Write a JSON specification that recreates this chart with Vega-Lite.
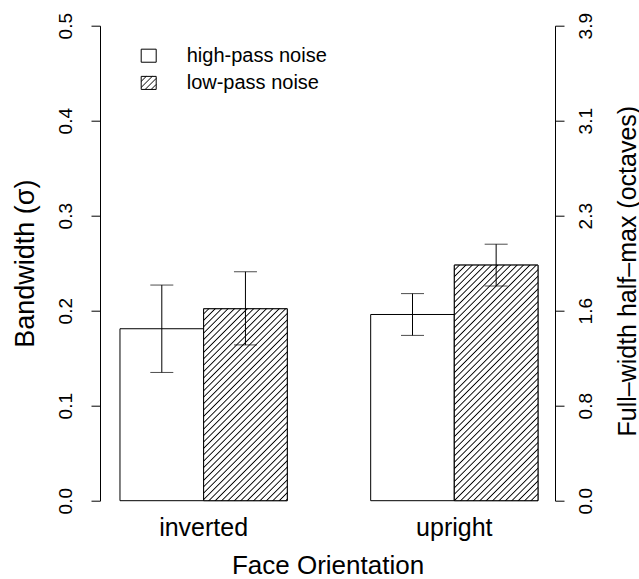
{
"$schema": "https://vega.github.io/schema/vega-lite/v6.json",
"width": 455, "height": 475,
"autosize": {"type": "none"},
"padding": {"left": 100, "top": 25.7, "right": 84, "bottom": 78.3},
"background": "white",
"config": {"view": {"stroke": null}, "font": "Liberation Sans",
 "axis": {"labelFont": "Liberation Sans", "titleFont": "Liberation Sans", "labelColor": "black", "titleColor": "black", "titleFontWeight": "normal", "domainColor": "black", "tickColor": "black", "grid": false, "domainWidth": 1, "tickWidth": 1}},
"data": {"values": [
 {"orient": "inverted", "noise": "high-pass noise", "value": 0.181, "lo": 0.135, "hi": 0.227},
 {"orient": "inverted", "noise": "low-pass noise", "value": 0.202, "lo": 0.164, "hi": 0.241},
 {"orient": "upright", "noise": "high-pass noise", "value": 0.196, "lo": 0.174, "hi": 0.218},
 {"orient": "upright", "noise": "low-pass noise", "value": 0.248, "lo": 0.226, "hi": 0.270}
]},
"layer": [
 {"layer": [
  {"mark": {"type": "bar", "stroke": "black", "strokeWidth": 1},
   "encoding": {
    "x": {"field": "orient", "type": "nominal", "scale": {"paddingInner": 0.3327, "paddingOuter": 0.0738, "align": 0.54},
      "axis": {"title": "Face Orientation", "domain": false, "ticks": false, "tickSize": 0, "labelAngle": 0, "labelFontSize": 25, "labelBaseline": "alphabetic", "labelPadding": 35, "titleFontSize": 26, "titleBaseline": "alphabetic", "titleY": 72.5}},
    "xOffset": {"field": "noise", "type": "nominal", "scale": {"paddingInner": 0, "paddingOuter": 0}},
    "y": {"field": "value", "type": "quantitative", "scale": {"domain": [0, 0.5], "nice": false},
      "axis": {"title": "Bandwidth (σ)", "values": [0, 0.1, 0.2, 0.3, 0.4, 0.5], "format": ".1f", "labelAngle": -90, "labelAlign": "center", "labelBaseline": "alphabetic", "labelPadding": 19.3, "labelFontSize": 19, "labelFlush": false, "labelOverlap": false, "tickSize": 9, "titleFontSize": 27, "titleAngle": -90, "titleAlign": "center", "titleBaseline": "alphabetic", "titleX": -66.7, "titleY": 237.5}},
    "fill": {"field": "noise", "type": "nominal", "scale": {"range": ["white", "white"]},
      "legend": {"title": null, "orient": "none", "legendX": 38.7, "legendY": 20, "padding": 0, "offset": 0,
        "symbolType": {"expr": "datum.value === 'low-pass noise' ? 'M-1,-0.87H1V0.87H-1Z M-1,-0.2L-0.33,-0.87 M-1,0.6L0.47,-0.87 M-0.47,0.87L1,-0.6 M0.33,0.87L1,0.2' : 'M-1,-0.87H1V0.87H-1Z'"},
        "symbolSize": 225, "symbolStrokeColor": "black", "symbolStrokeWidth": 1, "symbolOffset": 0,
        "labelFont": "Liberation Sans", "labelFontSize": 20, "labelColor": "black", "labelOffset": 28, "rowPadding": 7.2}}
   }},
  {"transform": [{"filter": "datum.noise === 'low-pass noise'"}],
   "mark": {"type": "bar", "stroke": "black", "strokeWidth": 1},
   "encoding": {
    "x": {"field": "orient", "type": "nominal",
      "axis": {"title": "Face Orientation", "domain": false, "ticks": false, "tickSize": 0, "labelAngle": 0, "labelFontSize": 25, "labelBaseline": "alphabetic", "labelPadding": 35, "titleFontSize": 26, "titleBaseline": "alphabetic", "titleY": 72.5}},
    "xOffset": {"field": "noise", "type": "nominal"},
    "y": {"field": "value", "type": "quantitative",
      "axis": {"title": "Bandwidth (σ)", "values": [0, 0.1, 0.2, 0.3, 0.4, 0.5], "format": ".1f", "labelAngle": -90, "labelAlign": "center", "labelBaseline": "alphabetic", "labelPadding": 19.3, "labelFontSize": 19, "labelFlush": false, "labelOverlap": false, "tickSize": 9, "titleFontSize": 27, "titleAngle": -90, "titleAlign": "center", "titleBaseline": "alphabetic", "titleX": -66.7, "titleY": 237.5}},
    "fill": {"condition": {"test": "datum.orient === 'inverted'", "value": {"gradient": "linear", "x1": 0, "y1": 0, "x2": 0.6108, "y2": 1.4013, "stops": [{"offset":0.012,"color":"#fff"},{"offset":0.016,"color":"#000"},{"offset":0.02,"color":"#fff"},{"offset":0.032,"color":"#fff"},{"offset":0.036,"color":"#000"},{"offset":0.04,"color":"#fff"},{"offset":0.052,"color":"#fff"},{"offset":0.056,"color":"#000"},{"offset":0.06,"color":"#fff"},{"offset":0.072,"color":"#fff"},{"offset":0.076,"color":"#000"},{"offset":0.08,"color":"#fff"},{"offset":0.092,"color":"#fff"},{"offset":0.096,"color":"#000"},{"offset":0.1,"color":"#fff"},{"offset":0.112,"color":"#fff"},{"offset":0.116,"color":"#000"},{"offset":0.12,"color":"#fff"},{"offset":0.132,"color":"#fff"},{"offset":0.136,"color":"#000"},{"offset":0.14,"color":"#fff"},{"offset":0.152,"color":"#fff"},{"offset":0.156,"color":"#000"},{"offset":0.16,"color":"#fff"},{"offset":0.172,"color":"#fff"},{"offset":0.176,"color":"#000"},{"offset":0.18,"color":"#fff"},{"offset":0.192,"color":"#fff"},{"offset":0.196,"color":"#000"},{"offset":0.2,"color":"#fff"},{"offset":0.212,"color":"#fff"},{"offset":0.216,"color":"#000"},{"offset":0.22,"color":"#fff"},{"offset":0.232,"color":"#fff"},{"offset":0.236,"color":"#000"},{"offset":0.24,"color":"#fff"},{"offset":0.252,"color":"#fff"},{"offset":0.256,"color":"#000"},{"offset":0.26,"color":"#fff"},{"offset":0.272,"color":"#fff"},{"offset":0.276,"color":"#000"},{"offset":0.28,"color":"#fff"},{"offset":0.292,"color":"#fff"},{"offset":0.296,"color":"#000"},{"offset":0.3,"color":"#fff"},{"offset":0.312,"color":"#fff"},{"offset":0.316,"color":"#000"},{"offset":0.32,"color":"#fff"},{"offset":0.332,"color":"#fff"},{"offset":0.336,"color":"#000"},{"offset":0.34,"color":"#fff"},{"offset":0.352,"color":"#fff"},{"offset":0.356,"color":"#000"},{"offset":0.36,"color":"#fff"},{"offset":0.372,"color":"#fff"},{"offset":0.376,"color":"#000"},{"offset":0.38,"color":"#fff"},{"offset":0.392,"color":"#fff"},{"offset":0.396,"color":"#000"},{"offset":0.4,"color":"#fff"},{"offset":0.412,"color":"#fff"},{"offset":0.416,"color":"#000"},{"offset":0.42,"color":"#fff"},{"offset":0.432,"color":"#fff"},{"offset":0.436,"color":"#000"},{"offset":0.44,"color":"#fff"},{"offset":0.452,"color":"#fff"},{"offset":0.456,"color":"#000"},{"offset":0.46,"color":"#fff"},{"offset":0.472,"color":"#fff"},{"offset":0.476,"color":"#000"},{"offset":0.48,"color":"#fff"},{"offset":0.492,"color":"#fff"},{"offset":0.496,"color":"#000"},{"offset":0.5,"color":"#fff"},{"offset":0.512,"color":"#fff"},{"offset":0.516,"color":"#000"},{"offset":0.52,"color":"#fff"},{"offset":0.532,"color":"#fff"},{"offset":0.536,"color":"#000"},{"offset":0.54,"color":"#fff"},{"offset":0.552,"color":"#fff"},{"offset":0.556,"color":"#000"},{"offset":0.56,"color":"#fff"},{"offset":0.572,"color":"#fff"},{"offset":0.576,"color":"#000"},{"offset":0.58,"color":"#fff"},{"offset":0.592,"color":"#fff"},{"offset":0.596,"color":"#000"},{"offset":0.6,"color":"#fff"},{"offset":0.612,"color":"#fff"},{"offset":0.616,"color":"#000"},{"offset":0.62,"color":"#fff"},{"offset":0.632,"color":"#fff"},{"offset":0.636,"color":"#000"},{"offset":0.64,"color":"#fff"},{"offset":0.652,"color":"#fff"},{"offset":0.656,"color":"#000"},{"offset":0.66,"color":"#fff"},{"offset":0.672,"color":"#fff"},{"offset":0.676,"color":"#000"},{"offset":0.68,"color":"#fff"},{"offset":0.692,"color":"#fff"},{"offset":0.696,"color":"#000"},{"offset":0.7,"color":"#fff"},{"offset":0.712,"color":"#fff"},{"offset":0.716,"color":"#000"},{"offset":0.72,"color":"#fff"},{"offset":0.732,"color":"#fff"},{"offset":0.736,"color":"#000"},{"offset":0.74,"color":"#fff"},{"offset":0.752,"color":"#fff"},{"offset":0.756,"color":"#000"},{"offset":0.76,"color":"#fff"},{"offset":0.772,"color":"#fff"},{"offset":0.776,"color":"#000"},{"offset":0.78,"color":"#fff"},{"offset":0.792,"color":"#fff"},{"offset":0.796,"color":"#000"},{"offset":0.8,"color":"#fff"},{"offset":0.812,"color":"#fff"},{"offset":0.816,"color":"#000"},{"offset":0.82,"color":"#fff"},{"offset":0.832,"color":"#fff"},{"offset":0.836,"color":"#000"},{"offset":0.84,"color":"#fff"},{"offset":0.852,"color":"#fff"},{"offset":0.856,"color":"#000"},{"offset":0.86,"color":"#fff"},{"offset":0.872,"color":"#fff"},{"offset":0.876,"color":"#000"},{"offset":0.88,"color":"#fff"},{"offset":0.892,"color":"#fff"},{"offset":0.896,"color":"#000"},{"offset":0.9,"color":"#fff"},{"offset":0.912,"color":"#fff"},{"offset":0.916,"color":"#000"},{"offset":0.92,"color":"#fff"},{"offset":0.932,"color":"#fff"},{"offset":0.936,"color":"#000"},{"offset":0.94,"color":"#fff"},{"offset":0.952,"color":"#fff"},{"offset":0.956,"color":"#000"},{"offset":0.96,"color":"#fff"},{"offset":0.972,"color":"#fff"},{"offset":0.976,"color":"#000"},{"offset":0.98,"color":"#fff"},{"offset":0.992,"color":"#fff"},{"offset":0.996,"color":"#000"},{"offset":1,"color":"#fff"}]}},
      "value": {"gradient": "linear", "x1": 0, "y1": 0, "x2": 0.4283, "y2": 1.2062, "stops": [{"offset":0.012,"color":"#fff"},{"offset":0.016,"color":"#000"},{"offset":0.02,"color":"#fff"},{"offset":0.032,"color":"#fff"},{"offset":0.036,"color":"#000"},{"offset":0.04,"color":"#fff"},{"offset":0.052,"color":"#fff"},{"offset":0.056,"color":"#000"},{"offset":0.06,"color":"#fff"},{"offset":0.072,"color":"#fff"},{"offset":0.076,"color":"#000"},{"offset":0.08,"color":"#fff"},{"offset":0.092,"color":"#fff"},{"offset":0.096,"color":"#000"},{"offset":0.1,"color":"#fff"},{"offset":0.112,"color":"#fff"},{"offset":0.116,"color":"#000"},{"offset":0.12,"color":"#fff"},{"offset":0.132,"color":"#fff"},{"offset":0.136,"color":"#000"},{"offset":0.14,"color":"#fff"},{"offset":0.152,"color":"#fff"},{"offset":0.156,"color":"#000"},{"offset":0.16,"color":"#fff"},{"offset":0.172,"color":"#fff"},{"offset":0.176,"color":"#000"},{"offset":0.18,"color":"#fff"},{"offset":0.192,"color":"#fff"},{"offset":0.196,"color":"#000"},{"offset":0.2,"color":"#fff"},{"offset":0.212,"color":"#fff"},{"offset":0.216,"color":"#000"},{"offset":0.22,"color":"#fff"},{"offset":0.232,"color":"#fff"},{"offset":0.236,"color":"#000"},{"offset":0.24,"color":"#fff"},{"offset":0.252,"color":"#fff"},{"offset":0.256,"color":"#000"},{"offset":0.26,"color":"#fff"},{"offset":0.272,"color":"#fff"},{"offset":0.276,"color":"#000"},{"offset":0.28,"color":"#fff"},{"offset":0.292,"color":"#fff"},{"offset":0.296,"color":"#000"},{"offset":0.3,"color":"#fff"},{"offset":0.312,"color":"#fff"},{"offset":0.316,"color":"#000"},{"offset":0.32,"color":"#fff"},{"offset":0.332,"color":"#fff"},{"offset":0.336,"color":"#000"},{"offset":0.34,"color":"#fff"},{"offset":0.352,"color":"#fff"},{"offset":0.356,"color":"#000"},{"offset":0.36,"color":"#fff"},{"offset":0.372,"color":"#fff"},{"offset":0.376,"color":"#000"},{"offset":0.38,"color":"#fff"},{"offset":0.392,"color":"#fff"},{"offset":0.396,"color":"#000"},{"offset":0.4,"color":"#fff"},{"offset":0.412,"color":"#fff"},{"offset":0.416,"color":"#000"},{"offset":0.42,"color":"#fff"},{"offset":0.432,"color":"#fff"},{"offset":0.436,"color":"#000"},{"offset":0.44,"color":"#fff"},{"offset":0.452,"color":"#fff"},{"offset":0.456,"color":"#000"},{"offset":0.46,"color":"#fff"},{"offset":0.472,"color":"#fff"},{"offset":0.476,"color":"#000"},{"offset":0.48,"color":"#fff"},{"offset":0.492,"color":"#fff"},{"offset":0.496,"color":"#000"},{"offset":0.5,"color":"#fff"},{"offset":0.512,"color":"#fff"},{"offset":0.516,"color":"#000"},{"offset":0.52,"color":"#fff"},{"offset":0.532,"color":"#fff"},{"offset":0.536,"color":"#000"},{"offset":0.54,"color":"#fff"},{"offset":0.552,"color":"#fff"},{"offset":0.556,"color":"#000"},{"offset":0.56,"color":"#fff"},{"offset":0.572,"color":"#fff"},{"offset":0.576,"color":"#000"},{"offset":0.58,"color":"#fff"},{"offset":0.592,"color":"#fff"},{"offset":0.596,"color":"#000"},{"offset":0.6,"color":"#fff"},{"offset":0.612,"color":"#fff"},{"offset":0.616,"color":"#000"},{"offset":0.62,"color":"#fff"},{"offset":0.632,"color":"#fff"},{"offset":0.636,"color":"#000"},{"offset":0.64,"color":"#fff"},{"offset":0.652,"color":"#fff"},{"offset":0.656,"color":"#000"},{"offset":0.66,"color":"#fff"},{"offset":0.672,"color":"#fff"},{"offset":0.676,"color":"#000"},{"offset":0.68,"color":"#fff"},{"offset":0.692,"color":"#fff"},{"offset":0.696,"color":"#000"},{"offset":0.7,"color":"#fff"},{"offset":0.712,"color":"#fff"},{"offset":0.716,"color":"#000"},{"offset":0.72,"color":"#fff"},{"offset":0.732,"color":"#fff"},{"offset":0.736,"color":"#000"},{"offset":0.74,"color":"#fff"},{"offset":0.752,"color":"#fff"},{"offset":0.756,"color":"#000"},{"offset":0.76,"color":"#fff"},{"offset":0.772,"color":"#fff"},{"offset":0.776,"color":"#000"},{"offset":0.78,"color":"#fff"},{"offset":0.792,"color":"#fff"},{"offset":0.796,"color":"#000"},{"offset":0.8,"color":"#fff"},{"offset":0.812,"color":"#fff"},{"offset":0.816,"color":"#000"},{"offset":0.82,"color":"#fff"},{"offset":0.832,"color":"#fff"},{"offset":0.836,"color":"#000"},{"offset":0.84,"color":"#fff"},{"offset":0.852,"color":"#fff"},{"offset":0.856,"color":"#000"},{"offset":0.86,"color":"#fff"},{"offset":0.872,"color":"#fff"},{"offset":0.876,"color":"#000"},{"offset":0.88,"color":"#fff"},{"offset":0.892,"color":"#fff"},{"offset":0.896,"color":"#000"},{"offset":0.9,"color":"#fff"},{"offset":0.912,"color":"#fff"},{"offset":0.916,"color":"#000"},{"offset":0.92,"color":"#fff"},{"offset":0.932,"color":"#fff"},{"offset":0.936,"color":"#000"},{"offset":0.94,"color":"#fff"},{"offset":0.952,"color":"#fff"},{"offset":0.956,"color":"#000"},{"offset":0.96,"color":"#fff"},{"offset":0.972,"color":"#fff"},{"offset":0.976,"color":"#000"},{"offset":0.98,"color":"#fff"},{"offset":0.992,"color":"#fff"},{"offset":0.996,"color":"#000"},{"offset":1,"color":"#fff"}]}}
   }},
  {"mark": {"type": "rule", "color": "black", "strokeWidth": 1},
   "encoding": {
    "x": {"field": "orient", "type": "nominal",
      "axis": {"title": "Face Orientation", "domain": false, "ticks": false, "tickSize": 0, "labelAngle": 0, "labelFontSize": 25, "labelBaseline": "alphabetic", "labelPadding": 35, "titleFontSize": 26, "titleBaseline": "alphabetic", "titleY": 72.5}},
    "xOffset": {"field": "noise", "type": "nominal"},
    "y": {"field": "lo", "type": "quantitative",
      "axis": {"title": "Bandwidth (σ)", "values": [0, 0.1, 0.2, 0.3, 0.4, 0.5], "format": ".1f", "labelAngle": -90, "labelAlign": "center", "labelBaseline": "alphabetic", "labelPadding": 19.3, "labelFontSize": 19, "labelFlush": false, "labelOverlap": false, "tickSize": 9, "titleFontSize": 27, "titleAngle": -90, "titleAlign": "center", "titleBaseline": "alphabetic", "titleX": -66.7, "titleY": 237.5}},
    "y2": {"field": "hi"}
   }},
  {"mark": {"type": "tick", "color": "black", "thickness": 1, "size": 23},
   "encoding": {
    "x": {"field": "orient", "type": "nominal",
      "axis": {"title": "Face Orientation", "domain": false, "ticks": false, "tickSize": 0, "labelAngle": 0, "labelFontSize": 25, "labelBaseline": "alphabetic", "labelPadding": 35, "titleFontSize": 26, "titleBaseline": "alphabetic", "titleY": 72.5}},
    "xOffset": {"field": "noise", "type": "nominal"},
    "y": {"field": "lo", "type": "quantitative",
      "axis": {"title": "Bandwidth (σ)", "values": [0, 0.1, 0.2, 0.3, 0.4, 0.5], "format": ".1f", "labelAngle": -90, "labelAlign": "center", "labelBaseline": "alphabetic", "labelPadding": 19.3, "labelFontSize": 19, "labelFlush": false, "labelOverlap": false, "tickSize": 9, "titleFontSize": 27, "titleAngle": -90, "titleAlign": "center", "titleBaseline": "alphabetic", "titleX": -66.7, "titleY": 237.5}}
   }}
 ]},
 {"mark": {"type": "tick", "color": "black", "thickness": 1, "size": 23},
  "encoding": {
   "x": {"field": "orient", "type": "nominal",
      "axis": {"title": "Face Orientation", "domain": false, "ticks": false, "tickSize": 0, "labelAngle": 0, "labelFontSize": 25, "labelBaseline": "alphabetic", "labelPadding": 35, "titleFontSize": 26, "titleBaseline": "alphabetic", "titleY": 72.5}},
   "xOffset": {"field": "noise", "type": "nominal"},
   "y": {"field": "hi", "type": "quantitative", "scale": {"domain": [0, 0.5], "nice": false},
     "axis": {"orient": "right", "title": "Full–width half–max (octaves)", "values": [0, 0.1, 0.2, 0.3, 0.4, 0.5], "labelExpr": "format(datum.value * 7.8, '.1f')", "labelAngle": -90, "labelAlign": "center", "labelBaseline": "alphabetic", "labelPadding": 27.7, "labelFontSize": 19, "labelFlush": false, "labelOverlap": false, "tickSize": 9, "titleFontSize": 25, "titleAngle": -90, "titleAlign": "center", "titleBaseline": "alphabetic", "titleX": 80, "titleY": 245}}
  }}
],
"resolve": {"scale": {"y": "independent"}}
}
